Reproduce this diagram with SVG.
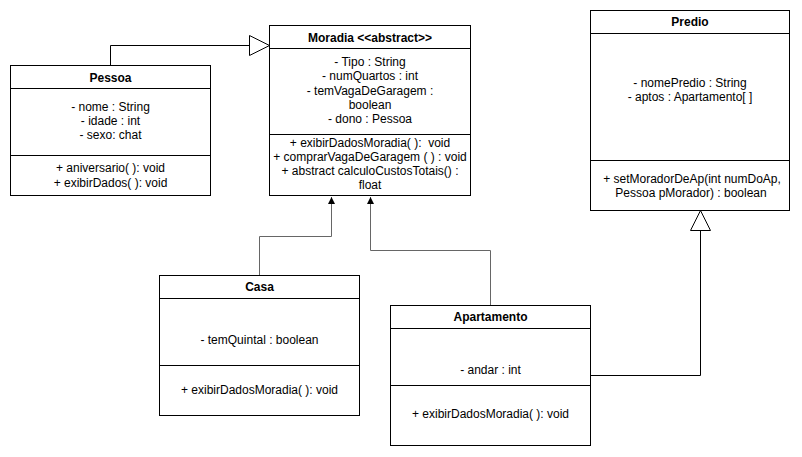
<svg xmlns="http://www.w3.org/2000/svg" width="802" height="457" viewBox="0 0 802 457">
<style>
.box{fill:#fff;stroke:#000;stroke-width:1}
.div{stroke:#000;stroke-width:1}
.t{font-family:"Liberation Sans",Arial,sans-serif;font-size:12px;fill:#000;text-anchor:middle}
.b{font-weight:bold}
.conn{fill:none;stroke:#000;stroke-width:1}
.conn2{fill:none;stroke:#666;stroke-width:1}
.tri{fill:#fff;stroke:#000;stroke-width:1}
</style>
<defs>
<marker id="blk" viewBox="0 0 10 10" refX="10" refY="5" markerWidth="7" markerHeight="9" orient="auto" markerUnits="userSpaceOnUse">
<path d="M0,0 L10,5 L0,10 Z" fill="#000"/>
</marker>
</defs>
<rect width="802" height="457" fill="#fff"/>
<g id="connectors">
<path class="conn" d="M110.5,65 V45.5 H249"/>
<polygon class="tri" points="249.5,35.5 269.5,45.5 249.5,55.5"/>
<path class="conn2" d="M259.5,276 V236.5 H331.5 V197" marker-end="url(#blk)"/>
<path class="conn2" d="M490.5,305 V250.5 H370.5 V197" marker-end="url(#blk)"/>
<path class="conn" d="M590,375.5 H700.5 V231"/>
<polygon class="tri" points="700.5,210.5 690.5,230.5 710.5,230.5"/>
</g>
<g id="Pessoa">
<rect class="box" x="10.5" y="65.5" width="200" height="130"/>
<line class="div" x1="10.5" y1="88.5" x2="210.5" y2="88.5"/>
<line class="div" x1="10.5" y1="155.5" x2="210.5" y2="155.5"/>
<text class="t b" x="110.5" y="82">Pessoa</text>
<text class="t" x="110.5" y="111">- nome : String</text>
<text class="t" x="110.5" y="125">- idade : int</text>
<text class="t" x="110.5" y="139">- sexo: chat</text>
<text class="t" x="110.5" y="172">+ aniversario( ): void</text>
<text class="t" x="110.5" y="187">+ exibirDados( ): void</text>
</g>
<g id="Moradia">
<rect class="box" x="269.5" y="25.5" width="201" height="170"/>
<line class="div" x1="269.5" y1="48.5" x2="470.5" y2="48.5"/>
<line class="div" x1="269.5" y1="134.5" x2="470.5" y2="134.5"/>
<text class="t b" x="370" y="42">Moradia &lt;&lt;abstract&gt;&gt;</text>
<text class="t" x="370" y="66">- Tipo : String</text>
<text class="t" x="370" y="80">- numQuartos : int</text>
<text class="t" x="370" y="95">- temVagaDeGaragem :</text>
<text class="t" x="370" y="109">boolean</text>
<text class="t" x="370" y="123">- dono : Pessoa</text>
<text class="t" x="370" y="147" xml:space="preserve">+ exibirDadosMoradia( ):  void</text>
<text class="t" x="370" y="161">+ comprarVagaDeGaragem ( ) : void</text>
<text class="t" x="370" y="175">+ abstract calculoCustosTotais() :</text>
<text class="t" x="370" y="189">float</text>
</g>
<g id="Predio">
<rect class="box" x="590.5" y="10.5" width="199" height="200"/>
<line class="div" x1="590.5" y1="33.5" x2="789.5" y2="33.5"/>
<line class="div" x1="590.5" y1="160.5" x2="789.5" y2="160.5"/>
<text class="t b" x="690" y="26">Predio</text>
<text class="t" x="690" y="87">- nomePredio : String</text>
<text class="t" x="690" y="101">- aptos : Apartamento[ ]</text>
<text class="t" x="692" y="183">+ setMoradorDeAp(int numDoAp,</text>
<text class="t" x="691" y="197">Pessoa pMorador) : boolean</text>
</g>
<g id="Casa">
<rect class="box" x="159.5" y="275.5" width="200" height="140"/>
<line class="div" x1="159.5" y1="298.5" x2="359.5" y2="298.5"/>
<line class="div" x1="159.5" y1="365.5" x2="359.5" y2="365.5"/>
<text class="t b" x="259.5" y="291">Casa</text>
<text class="t" x="259.5" y="344">- temQuintal : boolean</text>
<text class="t" x="259.5" y="394">+ exibirDadosMoradia( ): void</text>
</g>
<g id="Apartamento">
<rect class="box" x="390.5" y="305.5" width="200" height="140"/>
<line class="div" x1="390.5" y1="328.5" x2="590.5" y2="328.5"/>
<line class="div" x1="390.5" y1="385.5" x2="590.5" y2="385.5"/>
<text class="t b" x="490.5" y="321">Apartamento</text>
<text class="t" x="490.5" y="374">- andar : int</text>
<text class="t" x="490.5" y="418">+ exibirDadosMoradia( ): void</text>
</g>
</svg>
